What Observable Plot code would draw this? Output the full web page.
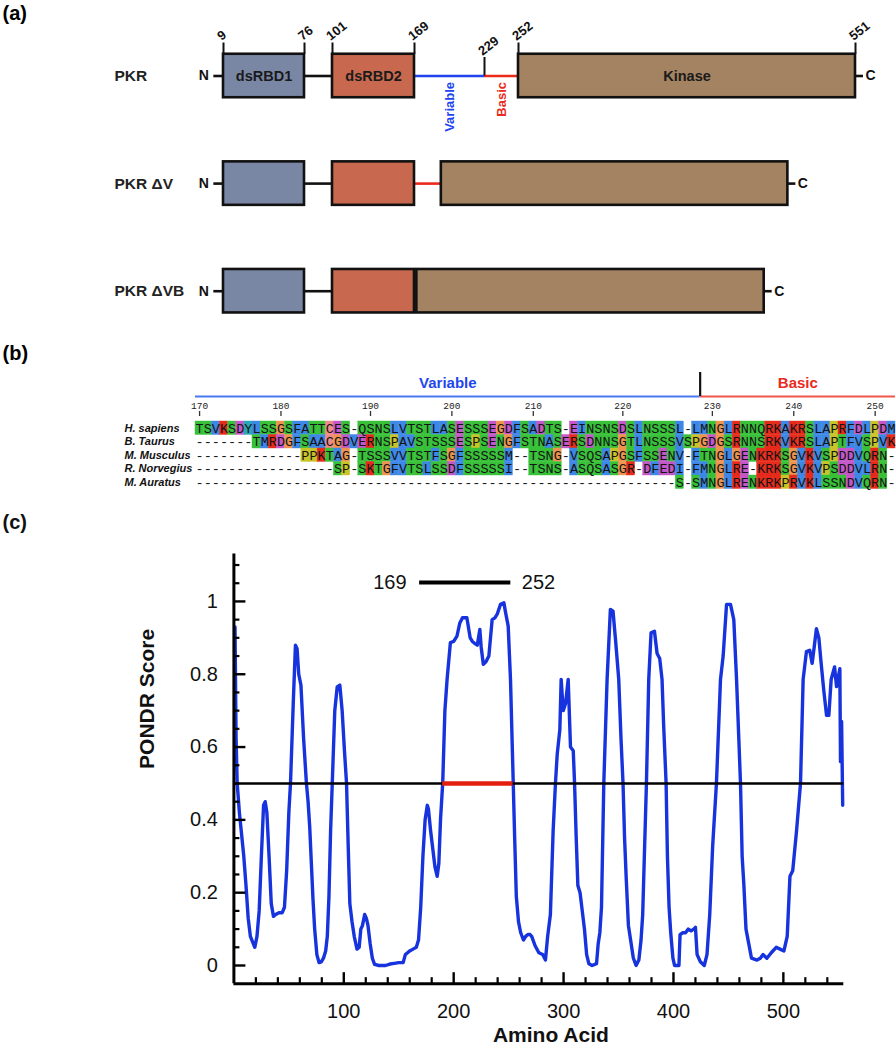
<!DOCTYPE html>
<html>
<head>
<meta charset="utf-8">
<script src="https://cdn.jsdelivr.net/npm/d3@7"></script>
<script src="https://cdn.jsdelivr.net/npm/@observablehq/plot@0.6"></script>
<style>
  body { margin: 0; background: #fff; }
  #fig svg { display: block; }
</style>
</head>
<body>
<div id="fig"></div>
<script>
// ---------------- Panel (a): domain schematic ----------------
const constructs = ["PKR", "PKR \u0394V", "PKR \u0394VB"];
const deletions = [null, [169, 229], [169, 250]];           // residues removed in each construct
const domainNames = ["dsRBD1", "dsRBD2", "Kinase"];
const domainStarts = [9, 101, 252];
const domainEnds = [76, 169, 551];
const domainColors = ["#7987a5", "#c8694f", "#a38361"];
const regionNames = ["Variable", "Basic"];
const regionStarts = [169, 229];
const regionEnds = [229, 252];
const regionColors = ["#2143f0", "#ec2a1b"];
const boundaryTicks = [9, 76, 101, 169, 229, 252, 551];
const nTerminus = 1;

// ---------------- Panel (b): alignment ----------------
const species = ["H. sapiens", "B. Taurus", "M. Musculus", "R. Norvegius", "M. Auratus"];
const alignment = [
  "TSVKSDYLSSGSFATTCES-QSNSLVTSTLASESSSEGDFSADTS-EINSNSDSLNSSSL-LMNGLRNNQRKAKRSLAPRFDLPDM",
  "-".repeat(7) + "TMRDGFSAACGDVERNSPAVSTSSSESPSENGFSTNASERSDNNSGTLNSSSVSPGDGSRNNSRKVKRSLAPTFVSPVK",
  "-".repeat(13) + "PPKTAG-TSSSVVTSTFSGFSSSSSM--TSNG-VSQSAPGSFSSENV-FTNGLGENKRKSGVKVSPDDVQRN-",
  "-".repeat(17) + "SP-SKTGFVTSLSSDFSSSSSI--TSNS-ASQSASGR-DFEDI-FMNGLRE-KRKSGVKVPSDDVLRN-",
  "-".repeat(59) + "S-SMNGLRENKRKPRVKLSSNDVQRN-"
];
const humanFirstResidue = 170;
const rulerResidues = [170, 180, 190, 200, 210, 220, 230, 240, 250];
const basicFirstResidue = 229;
const residueGroups = ["hydrophobic", "positive", "negative", "polar", "cysteine", "glycine", "proline", "aromatic"];
const groupResidues = ["AILMFWV", "KR", "ED", "NQST", "C", "G", "P", "HY"];
const groupColors = ["#3d87e6", "#e62a1c", "#c457c8", "#38c138", "#ef8a86", "#ef9450", "#c9c42a", "#2aa7b6"];

// ---------------- Panel (c): PONDR ----------------
const pondrResidue = [1,2,3,5,7,9,11,13,15,17,19,21,23,25,27,28.5,30,32,34,36,38,41,44,46,48,50,51.5,54,56,57.5,59,61,63.5,66,67.5,69,70.5,72,73.5,75.5,77.5,79.5,81.5,83.5,85,86.5,88,89.5,91.8,94,96.4,98.5,100.6,102.5,104,105.5,107.5,109.5,112,114,115.5,117,119,120.5,122,124,126,128,132,138,142,146,150,154,156,158,160,163,166,168,170,172,174,176,177,179,181,183,185,186.5,188,190,192,194,197,200,203,205.5,208,212,215,217,219,221.5,223.8,225,227,229.5,232,235,237.5,239.6,242.6,245.7,247.2,249.6,251.7,254.2,255.5,257,259,261,263.5,265.5,267.5,269.5,271,274,277.5,281,283.5,285.5,288,290.5,292.6,294.2,296.6,297.8,299.7,301.8,304.2,306.3,308.8,310,311.5,313,315,317,319,321,323,326,330,331.5,333,334.5,336.6,339.6,342.6,345,347.4,350.2,352.3,354.1,355.5,357,359,361,363.5,366,368.5,370.5,372,373.5,375.4,377.5,379.6,382.7,385.1,387.5,389.6,391.1,393.3,394.5,396,397.5,399.5,401,405,406,408.5,411,413.5,416,418.5,420,421.5,424.5,428,430.5,433,435.7,439.1,442.8,445.2,448.3,451.9,454.9,457.4,459.5,461,462.5,464,466,468.5,471,476,479,481.5,485,489,493.5,497,500.5,503.5,506,508.5,512,515.6,518,521,524,526.2,527.7,530.1,532.3,534.4,536.8,539.3,541.4,543.5,546.6,548.4,551.4,552,553,554];
const pondrScore = [0.93,0.62,0.50,0.42,0.36,0.30,0.22,0.13,0.08,0.065,0.05,0.08,0.15,0.30,0.44,0.45,0.42,0.30,0.17,0.135,0.14,0.145,0.145,0.16,0.26,0.42,0.50,0.72,0.88,0.87,0.80,0.77,0.62,0.50,0.45,0.38,0.28,0.18,0.10,0.03,0.008,0.01,0.02,0.04,0.08,0.19,0.37,0.50,0.70,0.765,0.77,0.70,0.59,0.50,0.33,0.17,0.12,0.08,0.045,0.05,0.10,0.11,0.14,0.13,0.11,0.06,0.02,0.003,0.0,0.0,0.004,0.006,0.008,0.008,0.03,0.035,0.04,0.045,0.05,0.07,0.16,0.30,0.40,0.44,0.43,0.37,0.32,0.27,0.245,0.28,0.40,0.50,0.70,0.786,0.887,0.89,0.905,0.94,0.955,0.955,0.90,0.89,0.885,0.88,0.923,0.875,0.827,0.835,0.85,0.95,0.955,0.965,0.992,0.996,0.97,0.932,0.786,0.50,0.35,0.19,0.12,0.09,0.07,0.08,0.085,0.085,0.08,0.055,0.035,0.03,0.015,0.08,0.14,0.37,0.50,0.58,0.648,0.786,0.70,0.72,0.786,0.60,0.59,0.50,0.35,0.22,0.20,0.15,0.10,0.03,0.005,0.0,0.005,0.06,0.09,0.16,0.50,0.786,0.978,0.973,0.89,0.786,0.62,0.50,0.35,0.24,0.11,0.07,0.02,0.0,0.015,0.07,0.14,0.30,0.50,0.786,0.914,0.918,0.857,0.843,0.786,0.658,0.50,0.30,0.16,0.09,0.02,0.0,0.0,0.085,0.09,0.09,0.10,0.095,0.10,0.105,0.03,0.01,0.0,0.03,0.14,0.33,0.50,0.786,0.85,0.992,0.992,0.95,0.786,0.62,0.50,0.30,0.225,0.10,0.06,0.02,0.015,0.02,0.03,0.02,0.035,0.05,0.045,0.04,0.08,0.245,0.26,0.37,0.50,0.786,0.862,0.866,0.83,0.866,0.925,0.90,0.83,0.755,0.687,0.687,0.786,0.82,0.766,0.815,0.56,0.67,0.44];
const threshold = 0.5;
const disorderedWindow = [190, 254];     // red segment on the 0.5 line
const variableBasicSpan = [169, 252];    // bar at the top
const spanLevel = 1.052;
const xMajor = [100, 200, 300, 400, 500];
const yMajor = [0, 0.2, 0.4, 0.6, 0.8, 1];

const FONT = "'Liberation Sans', Arial, Helvetica, sans-serif";
const MONO = "'Liberation Mono', 'Courier New', 'DejaVu Sans Mono', monospace";
const fig = document.getElementById("fig");

// ===== Panel (a) =====
function toConstruct(r, del) {
  if (!del) return r;
  const [a, b] = del;
  if (r <= a) return r;
  if (r >= b) return r - (b - a);
  return a;
}
const boxes = [], linkers = [], ends = [];
constructs.forEach((name, ci) => {
  const del = deletions[ci];
  const m = r => toConstruct(r, del);
  domainNames.forEach((dn, j) => boxes.push({construct: name, name: dn, x1: m(domainStarts[j]), x2: m(domainEnds[j]), fill: domainColors[j], labelled: ci === 0}));
  linkers.push({construct: name, x1: m(nTerminus), x2: m(domainStarts[0]), color: "#111"});
  linkers.push({construct: name, x1: m(domainEnds[0]), x2: m(domainStarts[1]), color: "#111"});
  regionNames.forEach((rn, j) => {
    const x1 = m(regionStarts[j]), x2 = m(regionEnds[j]);
    if (x2 > x1) linkers.push({construct: name, x1, x2, color: regionColors[j]});
  });
  ends.push({construct: name, n: m(nTerminus), c: m(domainEnds[2])});
});
const pkrRow = constructs[0];
const regions = regionNames.map((n, j) => ({name: n, mid: (regionStarts[j] + regionEnds[j]) / 2, color: regionColors[j]}));
const isDomainEdge = t => domainStarts.includes(t) || domainEnds.includes(t);
const edgeTicks = boundaryTicks.filter(isDomainEdge);
const innerTicks = boundaryTicks.filter(t => !isDomainEdge(t));
const tickLabelStyle = {y: () => pkrRow, text: d => String(d), rotate: () => -38, textAnchor: "start", lineAnchor: "bottom", fontSize: 13, fontWeight: "bold", fill: "#111"};

const panelA = Plot.plot({
  width: 896, height: 335,
  marginTop: 0, marginLeft: 0, marginRight: 0, marginBottom: 0,
  x: {type: "linear", domain: [9, 76, 101, 169, 229, 252, 551], range: [223, 304, 332, 414, 484, 518, 855], axis: null},
  y: {type: "band", domain: constructs, range: [53.75, 312.45], paddingInner: 0.596, paddingOuter: 0, round: false, axis: null},
  color: {type: "identity"},
  style: {fontFamily: FONT, background: "white", overflow: "visible"},
  marks: [
    Plot.ruleY(linkers, {y: "construct", x1: "x1", x2: "x2", stroke: "color", strokeWidth: 2.6}),
    Plot.ruleY(ends, {y: "construct", x1: "c", x2: "c", insetRight: -8, stroke: "#111", strokeWidth: 2.6}),
    Plot.barX(boxes, {y: "construct", x1: "x1", x2: "x2", fill: "fill", stroke: "#111", strokeWidth: 2.6}),
    Plot.text(boxes.filter(d => d.labelled), {y: "construct", x: d => (d.x1 + d.x2) / 2, text: "name", fontSize: 14.5, fontWeight: "bold", fill: "#1a1a1a"}),
    Plot.tickX(edgeTicks, {x: d => d, y: () => pkrRow, insetBottom: 32.25, dy: -11.25, stroke: "#111", strokeWidth: 2}),
    Plot.tickX(innerTicks, {x: d => d, y: () => pkrRow, insetTop: 3.25, insetBottom: 21.75, stroke: "#111", strokeWidth: 2}),
    Plot.text(edgeTicks, {x: d => d, ...tickLabelStyle, dx: -2, dy: -35}),
    Plot.text(innerTicks, {x: d => d, ...tickLabelStyle, dx: -2, dy: -20}),
    Plot.text(regions, {x: "mid", y: () => pkrRow, text: "name", fill: "color", rotate: -90, textAnchor: "end", dy: 6, fontSize: 13, fontWeight: "bold"}),
    Plot.text(ends, {x: "n", y: "construct", text: () => "N", textAnchor: "end", dx: -5, fontSize: 14, fontWeight: "bold", fill: "#111"}),
    Plot.text(ends, {x: "c", y: "construct", text: () => "C", textAnchor: "start", dx: 10, fontSize: 14, fontWeight: "bold", fill: "#111"}),
    Plot.text(constructs, {y: d => d, text: d => d, frameAnchor: "left", dx: 114, textAnchor: "start", fontSize: 15.5, fontWeight: "bold", fill: "#222"}),
    Plot.text(["(a)"], {frameAnchor: "top-left", text: d => d, dx: 2, dy: 5, lineAnchor: "top", textAnchor: "start", fontSize: 20, fontWeight: "bold"})
  ]
});
fig.appendChild(panelA);

// ===== Panel (b) =====
const groupOf = aa => { const i = groupResidues.findIndex(g => g.includes(aa)); return i < 0 ? null : residueGroups[i]; };
const cells = [];
alignment.forEach((seq, si) => { for (let k = 0; k < seq.length; k++) cells.push({species: species[si], col: k, aa: seq[k], group: groupOf(seq[k])}); });
const colOfResidue = new Map();
{ let r = humanFirstResidue; for (let k = 0; k < alignment[0].length; k++) if (alignment[0][k] !== "-") colOfResidue.set(r++, k); }
const nCols = alignment[0].length;
const basicCol = colOfResidue.get(basicFirstResidue);
const ruler = rulerResidues.map(r => ({r, col: colOfResidue.get(r)}));
const firstSpecies = species[0];
const rulerSpans = [
  {name: "Variable", x1: 0, x2: basicCol, line: "#4a78f0", text: "#1f47ee"},
  {name: "Basic", x1: basicCol, x2: nCols, line: "#f0584e", text: "#e82a1e"}
];

const panelB = Plot.plot({
  width: 896, height: 165,
  marginTop: 86, marginBottom: 11.5, marginLeft: 195, marginRight: 1,
  x: {domain: [0, nCols], axis: null},
  y: {type: "band", domain: species, paddingInner: 0, paddingOuter: 0, round: false, axis: null},
  color: {domain: residueGroups, range: groupColors},
  style: {fontFamily: FONT, background: "white", overflow: "visible"},
  marks: [
    Plot.barX(cells.filter(d => d.group), {x1: "col", x2: d => d.col + 1, y: "species", fill: "group", stroke: "group", strokeWidth: 0.4}),
    Plot.text(cells, {x: d => d.col + 0.5, y: "species", text: "aa", fontFamily: MONO, fontSize: 13.5, fill: "#141414"}),
    Plot.ruleY(rulerSpans, {y: () => firstSpecies, x1: "x1", x2: "x2", dy: -31.75, stroke: d => d.line, strokeWidth: 2}),
    Plot.tickX([basicCol], {x: d => d, y: () => firstSpecies, insetTop: -49, insetBottom: 38.5, stroke: "#111", strokeWidth: 2.2}),
    Plot.text(rulerSpans, {x: d => (d.x1 + d.x2) / 2, y: () => firstSpecies, text: "name", dy: -44.75, fill: d => d.text, fontSize: 15, fontWeight: "bold"}),
    Plot.tickX(ruler, {x: d => d.col + 0.5, y: () => firstSpecies, insetBottom: 8.5, dy: -10, stroke: "#333", strokeWidth: 1.3}),
    Plot.text(ruler, {x: d => d.col + 0.5, y: () => firstSpecies, text: d => String(d.r), dy: -22.25, fontFamily: MONO, fontSize: 9.5, fill: "#222"}),
    Plot.text(species, {y: d => d, text: d => d, frameAnchor: "left", dx: -71, textAnchor: "start", fontSize: 11, fontWeight: "bold", fontStyle: "italic", fill: "#111"}),
    Plot.text(["(b)"], {frameAnchor: "top-left", text: d => d, dx: -193, dy: -76, lineAnchor: "top", textAnchor: "start", fontSize: 20, fontWeight: "bold"})
  ]
});
fig.appendChild(panelB);

// ===== Panel (c) =====
const pondr = pondrResidue.map((r, i) => ({residue: r, score: pondrScore[i]}));
const mT = 53.6, mB = 66.8, mL = 233.4, mR = 52.7, HC = 550, WC = 896;
const frameW = WC - mL - mR, frameH = HC - mT - mB;
const xMinor = d3.range(20, 555, 20).filter(v => v % 100 !== 0);
const yMinor = d3.range(1, 23).map(i => +(i * 0.05).toFixed(2)).filter(v => !yMajor.some(m => Math.abs(m - v) < 1e-9));

const panelC = Plot.plot({
  width: WC, height: HC,
  marginTop: mT, marginBottom: mB, marginLeft: mL, marginRight: mR,
  x: {domain: [0, 555]},
  y: {domain: [-0.05, 1.13]},
  style: {fontFamily: FONT, background: "white", overflow: "visible", color: "#111"},
  marks: [
    Plot.line(pondr, {x: "residue", y: "score", stroke: "#1733dd", strokeWidth: 3.4, strokeLinejoin: "round"}),
    Plot.ruleY([threshold], {stroke: "#000", strokeWidth: 2.6}),
    Plot.ruleY([disorderedWindow], {y: () => threshold, x1: d => d[0], x2: d => d[1], stroke: "#e3200f", strokeWidth: 4.6}),
    Plot.ruleY([variableBasicSpan], {y: () => spanLevel, x1: d => d[0], x2: d => d[1], stroke: "#000", strokeWidth: 4.2}),
    Plot.text([variableBasicSpan], {x: d => d[0], y: () => spanLevel, text: d => String(d[0]), textAnchor: "end", dx: -13, fontSize: 20}),
    Plot.text([variableBasicSpan], {x: d => d[1], y: () => spanLevel, text: d => String(d[1]), textAnchor: "start", dx: 11, fontSize: 20}),
    Plot.ruleX([0], {stroke: "#000", strokeWidth: 3}),
    Plot.ruleY([-0.05], {stroke: "#000", strokeWidth: 3}),
    Plot.tickY(yMajor, {y: d => d, insetRight: frameW - 12, stroke: "#000", strokeWidth: 2.4}),
    Plot.tickY(yMinor, {y: d => d, insetRight: frameW - 6, stroke: "#000", strokeWidth: 2.2}),
    Plot.tickX(xMajor, {x: d => d, insetTop: frameH - 11, stroke: "#000", strokeWidth: 2.4}),
    Plot.tickX(xMinor, {x: d => d, insetTop: frameH - 6, stroke: "#000", strokeWidth: 2.2}),
    Plot.axisY({ticks: yMajor, tickFormat: d => String(d), tickSize: 0, tickPadding: 16, fontSize: 20, label: null}),
    Plot.axisX({ticks: xMajor, tickFormat: d => String(d), tickSize: 0, tickPadding: 20, fontSize: 20, label: null}),
    Plot.text(["PONDR Score"], {frameAnchor: "left", text: d => d, rotate: -90, dx: -87, fontSize: 21, fontWeight: "bold"}),
    Plot.text(["Amino Acid"], {frameAnchor: "bottom", text: d => d, dx: 12, dy: 58, fontSize: 21, fontWeight: "bold"}),
    Plot.text(["(c)"], {frameAnchor: "top-left", text: d => d, dx: -231.4, dy: -39, lineAnchor: "top", textAnchor: "start", fontSize: 20, fontWeight: "bold"})
  ]
});
fig.appendChild(panelC);
</script>
</body>
</html>
